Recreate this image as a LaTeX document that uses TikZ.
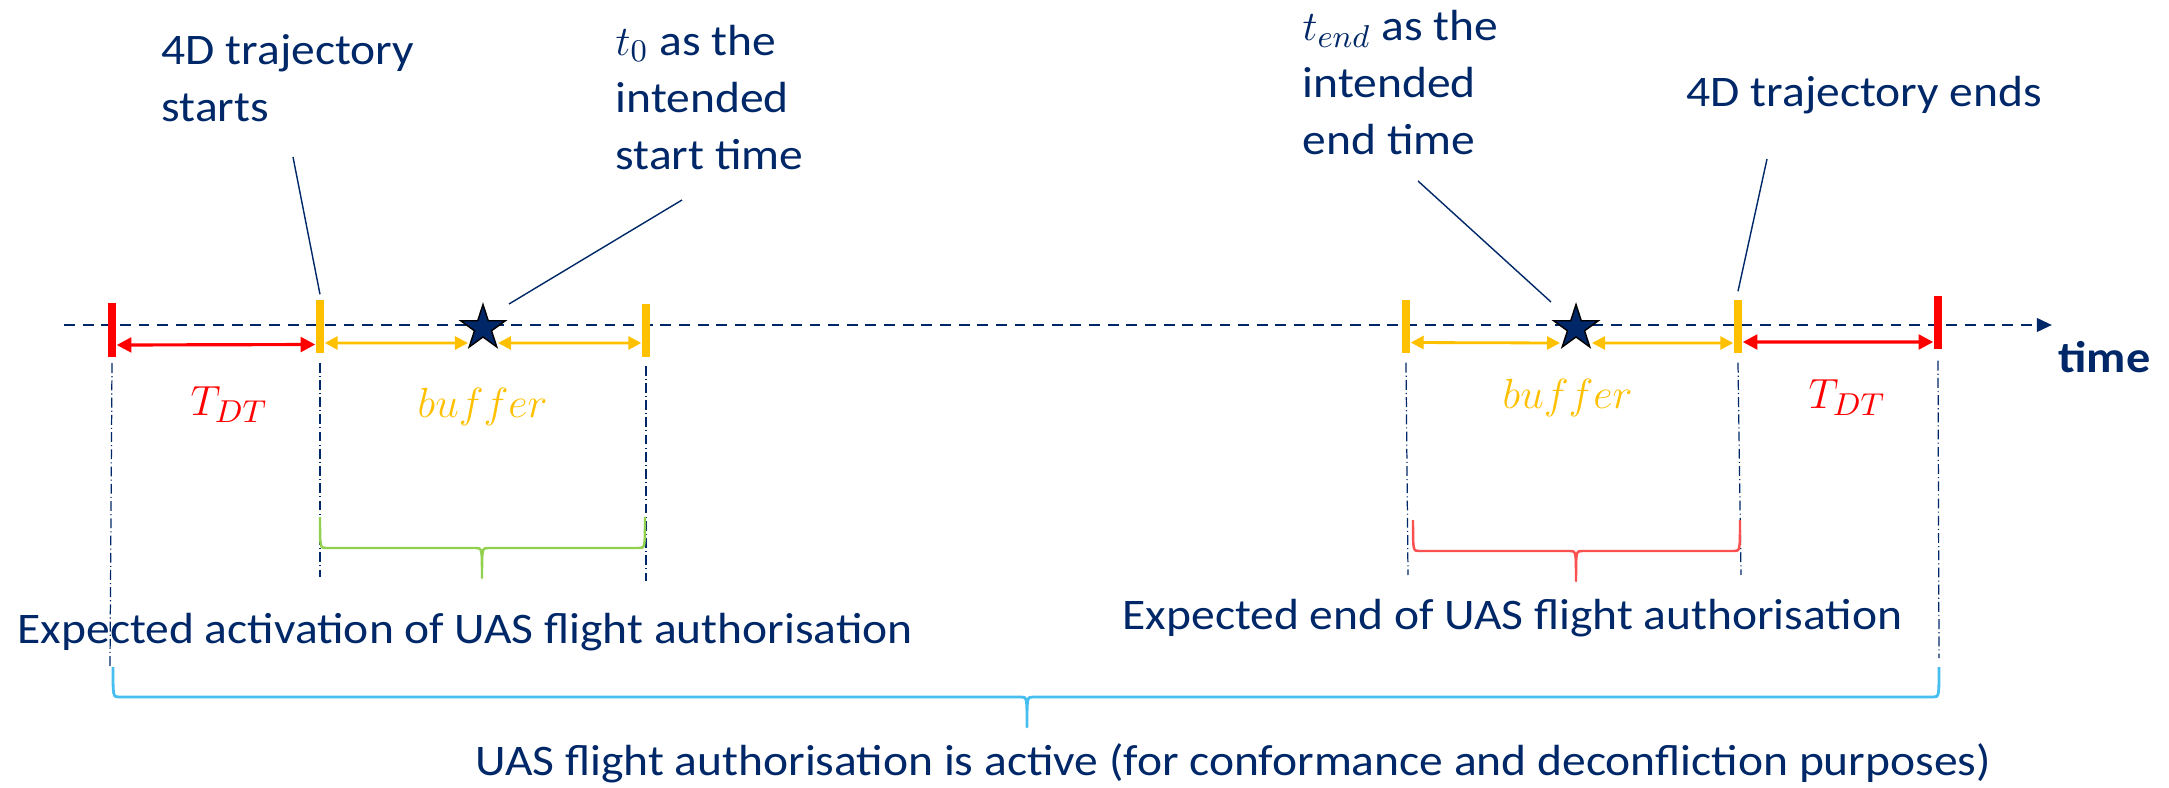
\documentclass[tikz,border=0pt]{standalone}
\usepackage{fontspec}
\setmainfont{Carlito}[FakeStretch=1.09]
\usetikzlibrary{arrows.meta,shapes.geometric,calc}

\definecolor{navy}{RGB}{0,40,104}
\definecolor{redc}{RGB}{255,0,0}
\definecolor{yellowc}{RGB}{255,192,0}
\definecolor{bracegreen}{RGB}{146,208,80}
\definecolor{bracered}{RGB}{250,80,80}
\definecolor{bracecyan}{RGB}{70,190,240}

\begin{document}
\begin{tikzpicture}[x=0.01cm,y=-0.01cm,
  lbl/.style={font=\fontsize{12.4pt}{16.3pt}\selectfont, text=navy, inner sep=0pt, anchor=base west, align=left},
  mlbl/.style={font=\fontsize{13pt}{16pt}\selectfont, inner sep=0pt, anchor=base west},
  rbar/.style={fill=redc, draw=none, minimum width=0.08cm, minimum height=0.53cm, inner sep=0pt},
  ybar/.style={fill=yellowc, draw=none, minimum width=0.08cm, minimum height=0.53cm, inner sep=0pt},
  tstar/.style={star, star points=5, star point ratio=2.618, minimum size=0.47cm, inner sep=0pt,
                fill=navy, draw=black, line width=0.4pt},
  timeline/.style={draw=navy, line width=0.8pt, dash pattern=on 3.1pt off 2.2pt,
                   -{Triangle[length=4.3pt,width=3.8pt]}},
  leader/.style={draw=navy, line width=0.4pt},
  guide/.style={draw=navy, line width=0.35pt, dash pattern=on 2.8pt off 0.9pt on 0.3pt off 0.9pt},
  rarr/.style={draw=redc, line width=0.9pt, <->, >={Triangle[length=4.2pt,width=4.2pt]}},
  yarr/.style={draw=yellowc, line width=0.8pt, <->, >={Triangle[length=3.7pt,width=3.7pt]}},
  brace/.style={line width=0.7pt, line join=round}
]
\useasboundingbox (0,0) rectangle (2169,788);

% time axis
\coordinate (axis0) at (64,325);
\coordinate (axis1) at (2052,325);
\draw[timeline] (axis0) -- (axis1);

% markers on the axis
\node[rbar] (r1) at (112,330) {};
\node[ybar] (y1) at (320,326.5) {};
\node[ybar] (y2) at (646,330.5) {};
\node[ybar] (y3) at (1406,326.5) {};
\node[ybar] (y4) at (1738,326.5) {};
\node[rbar] (r2) at (1938,322.5) {};

\node[tstar] (s1) at (483,328) {};
\node[tstar] (s2) at (1576,328) {};

% interval arrows
\draw[rarr] ([yshift=-0.15cm]r1.east) -- ([yshift=-0.18cm]y1.west);
\draw[yarr] ([yshift=-0.165cm]y1.east) -- ([xshift=-0.15cm,yshift=-0.15cm]s1.center);
\draw[yarr] ([xshift=0.15cm,yshift=-0.15cm]s1.center) -- ([yshift=-0.125cm]y2.west);
\draw[yarr] ([yshift=-0.16cm]y3.east) -- ([xshift=-0.16cm,yshift=-0.15cm]s2.center);
\draw[yarr] ([xshift=0.16cm,yshift=-0.15cm]s2.center) -- ([yshift=-0.165cm]y4.west);
\draw[rarr] ([yshift=-0.155cm]y4.east) -- ([yshift=-0.195cm]r2.west);

% interval labels
\node[mlbl, text=redc] (tdt1) at (190,415) {$T_{DT}$};
\node[mlbl, text=yellowc] (buf1) at (417,417) {$buffer$};
\node[mlbl, text=yellowc] (buf2) at (1502,408) {$buffer$};
\node[mlbl, text=redc] (tdt2) at (1808,408) {$T_{DT}$};

% vertical guides
\coordinate (g1) at (110,666);
\coordinate (g2) at (320,577);
\coordinate (g3) at (646,581);
\coordinate (g4) at (1408,575);
\coordinate (g5) at (1741,575);
\coordinate (g6) at (1939,658);
\draw[guide] ([yshift=-0.06cm]r1.south) -- (g1);
\draw[guide] ([yshift=-0.09cm]y1.south) -- (g2);
\draw[guide] ([yshift=-0.08cm]y2.south) -- (g3);
\draw[guide] ([yshift=-0.09cm]y3.south) -- (g4);
\draw[guide] ([yshift=-0.09cm]y4.south) -- (g5);
\draw[guide] ([yshift=-0.11cm]r2.south) -- (g6);

% callouts (anchored on the baseline of their last line)
\node[lbl] (tstart) at (161,122) {4D trajectory\\starts};
\node[lbl] (tzero) at (615,170) {$t_0$ as the\\intended\\start time};
\node[lbl] (tendt) at (1302,155) {$t_{end}$ as the\\intended\\end time};
\node[lbl] (tends) at (1686,107) {4D trajectory ends};
\node[lbl, font=\fontsize{12.6pt}{16pt}\selectfont\bfseries] (time) at (2058,373) {time};

\coordinate (c1) at (293,157);
\coordinate (c2) at (682,200);
\coordinate (c3) at (1418,181);
\coordinate (c4) at (1767,159);
\draw[leader] (c1) -- ([yshift=0.05cm]y1.north);
\draw[leader] (c2) -- ([xshift=0.26cm,yshift=0.24cm]s1.center);
\draw[leader] (c3) -- ([xshift=-0.25cm,yshift=0.26cm]s2.center);
\draw[leader] (c4) -- ([yshift=0.08cm]y4.north);

% braces
\draw[brace, draw=bracegreen] (320,517) .. controls (320,548) .. (326,548) -- (476,548)
  .. controls (482,548) .. (482,578) .. controls (482,548) .. (488,548) -- (639,548)
  .. controls (645,548) .. (645,517);
\draw[brace, draw=bracered] (1413,520) .. controls (1413,551) .. (1419,551) -- (1570,551)
  .. controls (1576,551) .. (1576,581) .. controls (1576,551) .. (1582,551) -- (1734,551)
  .. controls (1740,551) .. (1740,520);
\draw[brace, draw=bracecyan, line width=0.8pt] (113,667) .. controls (113,697) .. (119,697) -- (1021,697)
  .. controls (1027,697) .. (1027,727) .. controls (1027,697) .. (1033,697) -- (1933,697)
  .. controls (1939,697) .. (1939,667);

% bottom captions
\node[lbl] (expact) at (17,643) {Expected activation of UAS flight authorisation};
\node[lbl] (expend) at (1122,629) {Expected end of UAS flight authorisation};
\node[lbl] (active) at (475,775) {UAS flight authorisation is active (for conformance and deconfliction purposes)};
\end{tikzpicture}
\end{document}
